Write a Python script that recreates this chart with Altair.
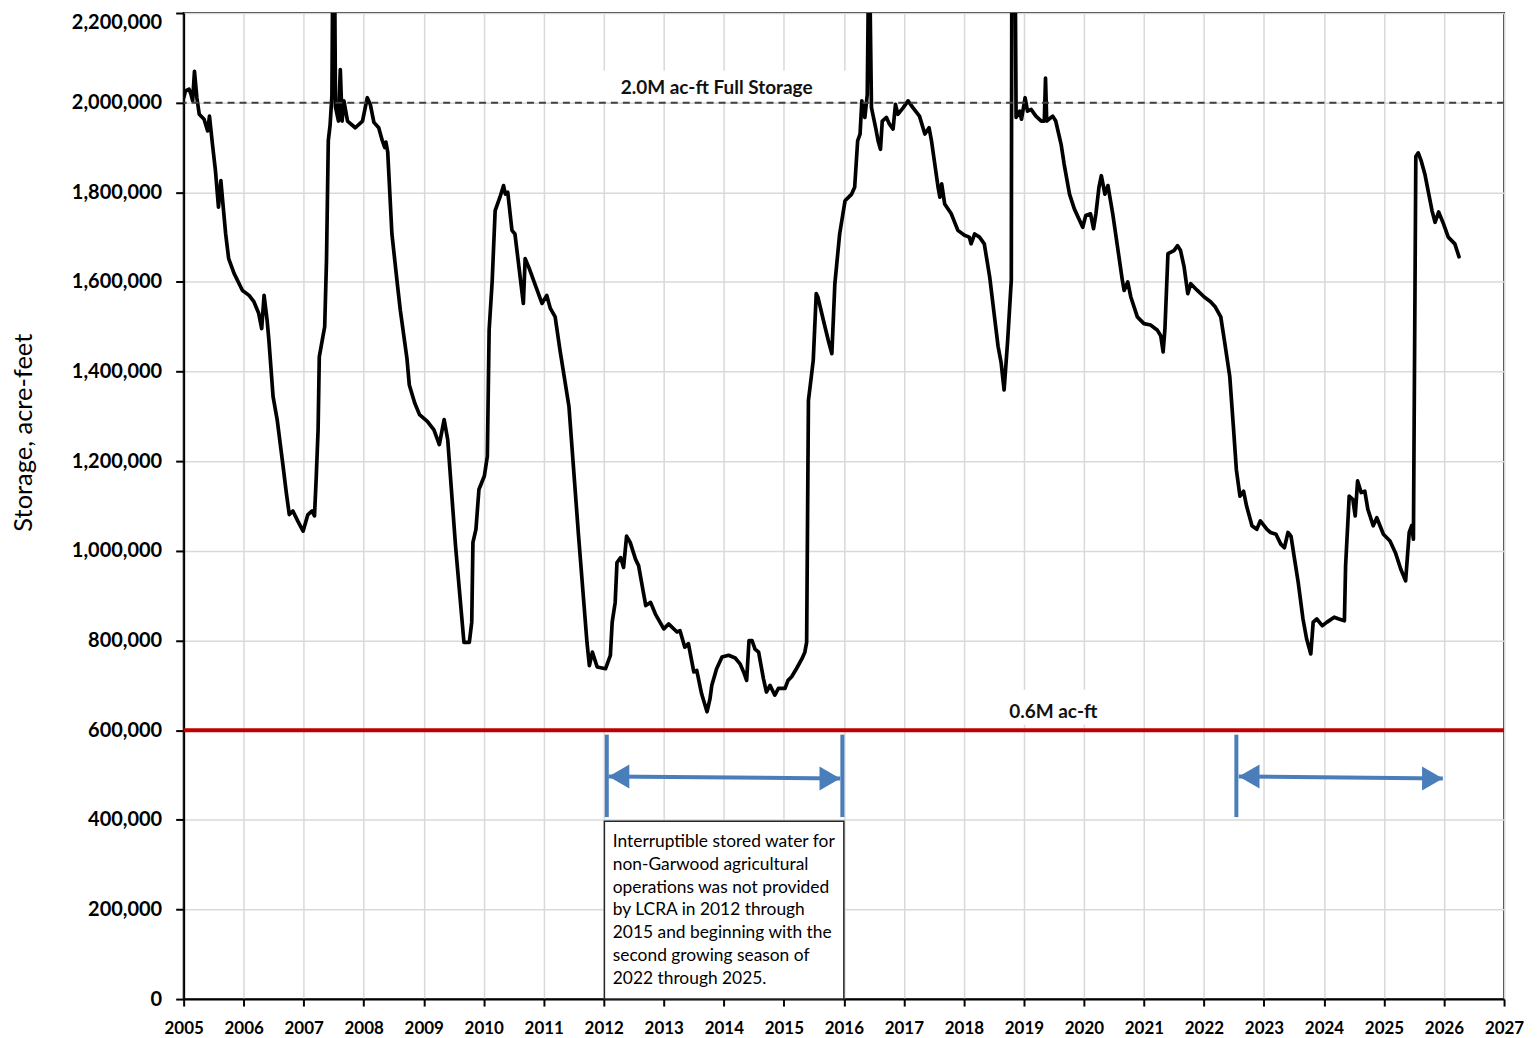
import altair as alt
import pandas as pd

# ---------------- data ----------------
years = [
    2005.00, 2005.03, 2005.09, 2005.12, 2005.15, 2005.18, 2005.22, 2005.26, 2005.34, 2005.40,
    2005.43, 2005.48, 2005.53, 2005.58, 2005.62, 2005.65, 2005.70, 2005.75, 2005.84, 2005.98,
    2006.09, 2006.17, 2006.25, 2006.30, 2006.34, 2006.39, 2006.42, 2006.49, 2006.56, 2006.65,
    2006.71, 2006.76, 2006.82, 2006.90, 2006.99, 2007.07, 2007.14, 2007.18, 2007.21, 2007.24,
    2007.26, 2007.32, 2007.35, 2007.38, 2007.41, 2007.44, 2007.47, 2007.49, 2007.51, 2007.53,
    2007.58, 2007.61, 2007.64, 2007.67, 2007.73, 2007.86, 2007.98, 2008.06, 2008.11, 2008.17,
    2008.25, 2008.31, 2008.35, 2008.37, 2008.40, 2008.47, 2008.56, 2008.61, 2008.72, 2008.76,
    2008.85, 2008.93, 2009.06, 2009.17, 2009.26, 2009.34, 2009.40, 2009.53, 2009.67, 2009.76,
    2009.80, 2009.82, 2009.87, 2009.92, 2010.01, 2010.06, 2010.09, 2010.14, 2010.19, 2010.27,
    2010.33, 2010.36, 2010.40, 2010.47, 2010.52, 2010.66, 2010.69, 2010.75, 2010.97, 2011.05,
    2011.11, 2011.19, 2011.27, 2011.42, 2011.58, 2011.72, 2011.76, 2011.81, 2011.89, 2012.03,
    2012.11, 2012.14, 2012.19, 2012.22, 2012.28, 2012.33, 2012.38, 2012.44, 2012.53, 2012.58,
    2012.66, 2012.70, 2012.78, 2012.86, 2013.00, 2013.08, 2013.22, 2013.27, 2013.35, 2013.41,
    2013.50, 2013.55, 2013.63, 2013.72, 2013.77, 2013.80, 2013.88, 2013.97, 2014.08, 2014.19,
    2014.27, 2014.33, 2014.38, 2014.42, 2014.47, 2014.52, 2014.58, 2014.66, 2014.71, 2014.77,
    2014.85, 2014.91, 2015.02, 2015.07, 2015.13, 2015.21, 2015.30, 2015.35, 2015.38, 2015.41,
    2015.46, 2015.49, 2015.54, 2015.57, 2015.66, 2015.74, 2015.80, 2015.85, 2015.93, 2016.02,
    2016.13, 2016.18, 2016.23, 2016.27, 2016.30, 2016.35, 2016.39, 2016.42, 2016.46, 2016.53,
    2016.57, 2016.61, 2016.64, 2016.71, 2016.76, 2016.82, 2016.86, 2016.90, 2016.99, 2017.07,
    2017.15, 2017.26, 2017.35, 2017.42, 2017.46, 2017.57, 2017.60, 2017.63, 2017.68, 2017.79,
    2017.90, 2018.01, 2018.09, 2018.12, 2018.18, 2018.26, 2018.34, 2018.43, 2018.51, 2018.57,
    2018.62, 2018.67, 2018.73, 2018.79, 2018.80, 2018.85, 2018.87, 2018.93, 2018.96, 2019.02,
    2019.06, 2019.12, 2019.20, 2019.29, 2019.34, 2019.36, 2019.38, 2019.48, 2019.53, 2019.62,
    2019.67, 2019.76, 2019.84, 2019.98, 2020.03, 2020.11, 2020.16, 2020.20, 2020.25, 2020.29,
    2020.35, 2020.40, 2020.48, 2020.56, 2020.64, 2020.67, 2020.73, 2020.78, 2020.89, 2021.00,
    2021.11, 2021.22, 2021.28, 2021.32, 2021.35, 2021.40, 2021.50, 2021.56, 2021.61, 2021.67,
    2021.73, 2021.78, 2021.89, 2022.00, 2022.11, 2022.19, 2022.28, 2022.34, 2022.43, 2022.49,
    2022.54, 2022.60, 2022.66, 2022.71, 2022.80, 2022.88, 2022.94, 2023.05, 2023.11, 2023.20,
    2023.28, 2023.34, 2023.40, 2023.45, 2023.51, 2023.57, 2023.65, 2023.71, 2023.78, 2023.82,
    2023.88, 2023.97, 2024.05, 2024.17, 2024.25, 2024.34, 2024.36, 2024.42, 2024.48, 2024.52,
    2024.56, 2024.62, 2024.68, 2024.73, 2024.82, 2024.88, 2024.99, 2025.10, 2025.19, 2025.28,
    2025.36, 2025.42, 2025.46, 2025.49, 2025.53, 2025.57, 2025.62, 2025.68, 2025.80, 2025.85,
    2025.91, 2025.99, 2026.07, 2026.18, 2026.25,
]
storage = [
    2010000, 2026000, 2030000, 2020000, 2004000, 2070000, 2011000, 1974000, 1963000, 1937000,
    1970000, 1907000, 1848000, 1767000, 1826000, 1781000, 1707000, 1652000, 1619000, 1581000,
    1570000, 1556000, 1530000, 1496000, 1570000, 1515000, 1470000, 1344000, 1291000, 1196000,
    1130000, 1081000, 1089000, 1067000, 1044000, 1081000, 1089000, 1078000, 1167000, 1270000,
    1433000, 1478000, 1500000, 1648000, 1915000, 1950000, 2015000, 2400000, 2400000, 1990000,
    1959000, 2074000, 1959000, 2004000, 1959000, 1944000, 1959000, 2011000, 1996000, 1956000,
    1944000, 1915000, 1900000, 1912000, 1890000, 1707000, 1596000, 1537000, 1430000, 1370000,
    1330000, 1304000, 1289000, 1270000, 1237000, 1293000, 1248000, 1011000, 796000, 796000,
    841000, 1019000, 1048000, 1137000, 1167000, 1211000, 1493000, 1600000, 1759000, 1789000,
    1815000, 1796000, 1800000, 1715000, 1707000, 1552000, 1652000, 1633000, 1552000, 1570000,
    1541000, 1522000, 1448000, 1322000, 1033000, 796000, 744000, 774000, 741000, 737000,
    767000, 841000, 885000, 974000, 985000, 963000, 1033000, 1019000, 981000, 967000,
    907000, 878000, 885000, 859000, 826000, 837000, 819000, 822000, 785000, 793000,
    730000, 733000, 681000, 641000, 670000, 700000, 737000, 763000, 767000, 761000,
    748000, 730000, 711000, 800000, 800000, 781000, 774000, 715000, 685000, 700000,
    678000, 693000, 693000, 711000, 719000, 737000, 759000, 774000, 796000, 1336000,
    1391000, 1425000, 1574000, 1565000, 1514000, 1470000, 1440000, 1596000, 1707000, 1781000,
    1796000, 1811000, 1915000, 1930000, 2004000, 1967000, 2018000, 2400000, 1989000, 1944000,
    1915000, 1896000, 1959000, 1967000, 1952000, 1941000, 1996000, 1974000, 1989000, 2004000,
    1989000, 1970000, 1930000, 1944000, 1915000, 1811000, 1789000, 1819000, 1774000, 1752000,
    1715000, 1704000, 1700000, 1685000, 1707000, 1700000, 1685000, 1611000, 1522000, 1456000,
    1420000, 1359000, 1470000, 1604000, 2400000, 2400000, 1967000, 1981000, 1963000, 2011000,
    1981000, 1985000, 1970000, 1959000, 1959000, 2055000, 1959000, 1970000, 1959000, 1907000,
    1863000, 1796000, 1763000, 1722000, 1748000, 1752000, 1719000, 1752000, 1811000, 1837000,
    1796000, 1815000, 1752000, 1678000, 1604000, 1581000, 1600000, 1567000, 1522000, 1507000,
    1504000, 1493000, 1480000, 1444000, 1496000, 1663000, 1670000, 1681000, 1670000, 1633000,
    1574000, 1596000, 1581000, 1567000, 1556000, 1544000, 1522000, 1470000, 1389000, 1278000,
    1181000, 1122000, 1133000, 1100000, 1056000, 1048000, 1067000, 1048000, 1041000, 1037000,
    1015000, 1007000, 1041000, 1033000, 981000, 930000, 848000, 804000, 770000, 841000,
    848000, 833000, 841000, 852000, 848000, 844000, 967000, 1122000, 1115000, 1078000,
    1156000, 1130000, 1133000, 1093000, 1056000, 1074000, 1037000, 1022000, 996000, 959000,
    933000, 1041000, 1056000, 1026000, 1880000, 1888000, 1870000, 1841000, 1759000, 1733000,
    1756000, 1730000, 1700000, 1685000, 1656000,
]

x_ticks = list(range(2005, 2028))
y_ticks = list(range(0, 2200001, 200000))

full_storage = 2000000
min_storage = 600000
full_label = "2.0M ac-ft Full Storage"
min_label = "0.6M ac-ft"

# annotation brackets, in years
bar_years = [2012.05, 2015.975, 2022.54]
arrow_left = [2012.08, 2022.58]
arrow_right = [2015.94, 2025.98]

note_lines = [
    "Interruptible stored water for",
    "non-Garwood agricultural",
    "operations was not provided",
    "by LCRA in 2012 through",
    "2015 and beginning with the",
    "second growing season of",
    "2022 through 2025.",
]
note_line_y = [349600, 298400, 247200, 198200, 147000, 95700, 44500]

# ---------------- layout ----------------
W, H = 1323, 988
PX_PER_YEAR = W / 22.0
FONT = "Lato"
BLUE = "#4A7EBB"
RED = "#C00000"

xs = alt.Scale(domain=[2005, 2027], nice=False, zero=False)
ys = alt.Scale(domain=[0, 2200000], nice=False, zero=True)

X_AXIS = alt.Axis(
    values=x_ticks, labelExpr="format(datum.value, 'd')", title=None, grid=True,
    labelFontSize=17, labelFont=FONT, labelFontWeight="bold", labelColor="black",
    labelPadding=14, tickSize=7, tickWidth=2, tickColor="black",
    domainColor="black", domainWidth=2, gridColor="#D9D9D9", gridWidth=1.5,
    labelFlush=False, labelOverlap=False,
)
Y_AXIS = alt.Axis(
    values=y_ticks, labelExpr="format(datum.value, ',')", title="Storage, acre-feet", grid=True,
    labelFontSize=20, labelFont=FONT, labelFontWeight="bold", labelColor="black",
    labelPadding=14, tickSize=8, tickWidth=2, tickColor="black",
    labelBaseline={"condition": {"test": "datum.value >= 2200000", "value": "top"}, "value": "middle"},
    domainColor="black", domainWidth=2, gridColor="#D9D9D9", gridWidth=1.5,
    labelFlush=False, labelOverlap=False,
    titleFont=FONT, titleFontSize=25.5, titleFontWeight="normal", titleColor="black",
    titleX=-160, titleY=420, titleAlign="center", titleBaseline="middle", titleAngle=270,
)


def X(field):
    return alt.X(field, type="quantitative", scale=xs, axis=X_AXIS, title=None)


def Y(field):
    return alt.Y(field, type="quantitative", scale=ys, axis=Y_AXIS, title="Storage, acre-feet")


df = pd.DataFrame({"year": years, "storage": storage})

line = alt.Chart(df).mark_line(
    color="black", strokeWidth=3.7, clip=True, strokeJoin="round", strokeCap="round"
).encode(x=X("year"), y=Y("storage"))

# white backgrounds behind the two labels (they hide the gridlines)
bg = pd.DataFrame({
    "x": [2011.95, 2018.62],
    "x2": [2016.05, 2020.37],
    "y": [2071000, 690000],
    "y2": [2003000, 612000],
})
label_bg = alt.Chart(bg).mark_rect(color="white").encode(
    x=X("x"), x2="x2", y=Y("y"), y2="y2"
)

full_rule = alt.Chart(pd.DataFrame({"v": [full_storage]})).mark_rule(
    color="#404040", strokeWidth=2, strokeDash=[7, 5]
).encode(y=Y("v"))

min_rule = alt.Chart(pd.DataFrame({"v": [min_storage]})).mark_rule(
    color=RED, strokeWidth=4
).encode(y=Y("v"))

labels = alt.Chart(pd.DataFrame({
    "x": [2013.88, 2019.49],
    "y": [2033000, 641000],
    "t": [full_label, min_label],
})).mark_text(
    font=FONT, fontSize=19, fontWeight="bold", color="#111111",
    align="center", baseline="middle"
).encode(x=X("x"), y=Y("y"), text="t:N")

# note box
box = alt.Chart(pd.DataFrame({"x": [2012.01], "x2": [2016.0], "y": [397000], "y2": [0]})).mark_rect(
    fill="white", stroke="#262626", strokeWidth=1.5
).encode(x=X("x"), x2="x2", y=Y("y"), y2="y2")

note = alt.Chart(pd.DataFrame({"t": note_lines, "y": note_line_y, "x": [2012.15] * len(note_lines)})).mark_text(
    font=FONT, fontSize=17.4, color="black", align="left", baseline="middle"
).encode(x=X("x"), y=Y("y"), text="t:N")

# blue vertical bars
vbars = alt.Chart(pd.DataFrame({
    "x": bar_years,
    "y": [590000] * 3,
    "y2": [406000] * 3,
})).mark_rule(color=BLUE, strokeWidth=4).encode(x=X("x"), y=Y("y"), y2="y2")

# arrow shafts
arrow_y_left = [496600, 496600]
arrow_y_right = [492100, 492100]
shafts = alt.Chart(pd.DataFrame({
    "x": arrow_left, "x2": arrow_right, "y": arrow_y_left, "y2": arrow_y_right,
})).mark_rule(color=BLUE, strokeWidth=4).encode(x=X("x"), x2="x2", y=Y("y"), y2="y2")

HEAD = 24  # symbol side in px
off = (3 ** 0.5) * HEAD / 4 / PX_PER_YEAR
heads_l = alt.Chart(pd.DataFrame({
    "x": [a + off for a in arrow_left], "y": arrow_y_left,
})).mark_point(shape="triangle-left", filled=True, opacity=1, color=BLUE, size=HEAD * HEAD, strokeWidth=0).encode(
    x=X("x"), y=Y("y"))
heads_r = alt.Chart(pd.DataFrame({
    "x": [a - off for a in arrow_right], "y": arrow_y_right,
})).mark_point(shape="triangle-right", filled=True, opacity=1, color=BLUE, size=HEAD * HEAD, strokeWidth=0).encode(
    x=X("x"), y=Y("y"))

chart = alt.layer(
    line, label_bg, full_rule, min_rule, labels, vbars, shafts, heads_l, heads_r, box, note
).properties(
    width=W, height=H,
    background="white",
    autosize=alt.AutoSizeParams(type="none"),
    padding={"left": 176, "top": 4, "right": 25, "bottom": 46},
).configure_view(
    stroke="#333333", strokeWidth=2
)

chart.save("out.html", embed_options={"renderer": "svg", "actions": False})
